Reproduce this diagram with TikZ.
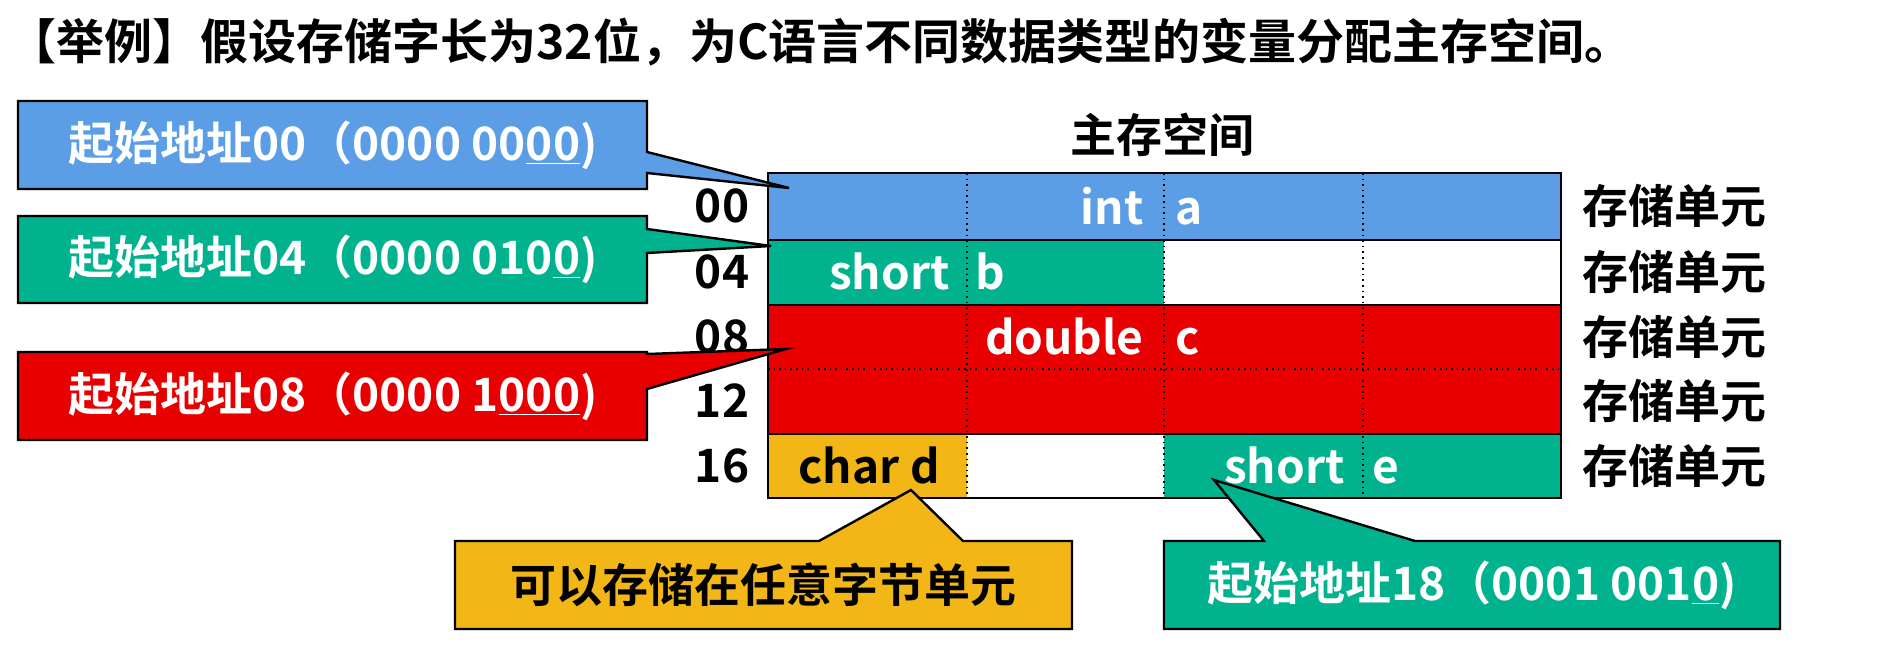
\documentclass[tikz,border=0pt]{standalone}
\usepackage{fontspec}
\setmainfont{Noto Sans CJK SC}[BoldFont={Noto Sans CJK SC Bold}]
\usepackage{tikz}
\usetikzlibrary{positioning}
\definecolor{cellblue}{RGB}{91,158,230}
\definecolor{cellgreen}{RGB}{0,178,142}
\definecolor{cellred}{RGB}{232,0,0}
\definecolor{cellorange}{RGB}{242,182,22}
\tikzset{
  callout/.style={draw=black,line width=1.2pt},
  txtwhite/.style={text=white,font=\fontsize{23}{25}\selectfont\bfseries,inner sep=0pt},
  txtblack/.style={text=black,font=\fontsize{23}{25}\selectfont\bfseries,inner sep=0pt},
  sepline/.style={black,dotted,line width=0.8pt}
}
\begin{document}
\begin{tikzpicture}[x=0.5pt,y=-0.5pt]
\useasboundingbox[fill=white] (0,0) rectangle (1878,657);

% Title
\node[txtblack,anchor=west,font=\fontsize{24}{26}\selectfont\bfseries] (title) at (8,42) {【举例】假设存储字长为32位，为C语言不同数据类型的变量分配主存空间。};

% Cells
\fill[cellblue] (768,173) rectangle (1561,240);
\fill[cellgreen] (768,240) rectangle (1164,305);
\fill[cellred] (768,305) rectangle (1561,434);
\fill[cellorange] (768,434) rectangle (967,498);
\fill[cellgreen] (1164,434) rectangle (1561,498);
\foreach \x in {967,1164,1363}
  \draw[sepline] (\x,173) -- (\x,498);
\draw[sepline] (768,369) -- (1561,369);
\draw[black,line width=1.2pt] (768,173) rectangle (1561,498);
\foreach \y in {240,305,434}
  \draw[black,line width=1.2pt] (768,\y) -- (1561,\y);
\foreach \y/\lab [count=\i] in {206/00,272/04,337/08,401/12,466/16}{
  \node[txtblack] (addr\i) at (722,\y) {\lab};
  \node[txtblack] (unit\i) at (1674,\y) {存储单元};
}
\node[txtblack] (memtitle) at (1162,135) {主存空间};

% Cell labels
\node[txtwhite,anchor=base east] (inta) at (1144,225) {int};
\node[txtwhite,anchor=base west] at (1175,225) {a};
\node[txtwhite,anchor=base east] (shortb) at (950,290) {short};
\node[txtwhite,anchor=base west] at (975,290) {b};
\node[txtwhite,anchor=base east] (doublec) at (1144,355) {double};
\node[txtwhite,anchor=base west] at (1175,355) {c};
\node[txtblack,anchor=base east] (chard) at (900,483) {char};
\node[txtblack,anchor=base west] at (910,483) {d};
\node[txtwhite,anchor=base east] (shorte) at (1345,483) {short};
\node[txtwhite,anchor=base west] at (1372,483) {e};

% Callouts
\filldraw[callout,fill=cellblue] (18,101) -- (647,101) -- (647,152) -- (789,188) -- (647,173) -- (647,189) -- (18,189) -- cycle;
\node[txtwhite] (start00) at (333,145) {起始地址00（0000 00\underline{00})};
\filldraw[callout,fill=cellgreen] (18,216) -- (647,216) -- (647,229) -- (771,246) -- (647,253) -- (647,303) -- (18,303) -- cycle;
\node[txtwhite] (start04) at (333,259) {起始地址04（0000 010\underline{0})};
\filldraw[callout,fill=cellred] (18,352) -- (647,352) -- (647,354) -- (786,349) -- (647,389) -- (647,440) -- (18,440) -- cycle;
\node[txtwhite] (start08) at (333,396) {起始地址08（0000 1\underline{000})};
\filldraw[callout,fill=cellorange] (455,541) -- (819,541) -- (911,490) -- (963,541) -- (1072,541) -- (1072,629) -- (455,629) -- cycle;
\node[txtblack] (anybyte) at (763,585) {可以存储在任意字节单元};
\filldraw[callout,fill=cellgreen] (1164,541) -- (1264,541) -- (1214,480) -- (1415,541) -- (1780,541) -- (1780,629) -- (1164,629) -- cycle;
\node[txtwhite] (start18) at (1472,585) {起始地址18（0001 001\underline{0})};
\end{tikzpicture}
\end{document}
